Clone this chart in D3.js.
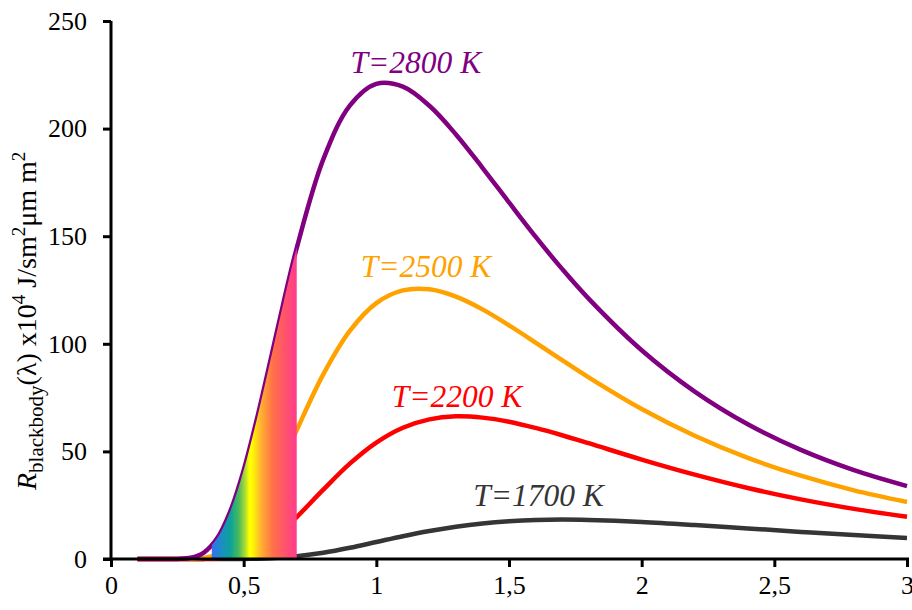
<!DOCTYPE html>
<html>
<head>
<meta charset="utf-8">
<script src="https://cdn.jsdelivr.net/npm/d3@7"></script>
<style>
  body { margin: 0; background: #fff; }
  text { font-family: "Liberation Serif", "Times New Roman", serif; }
</style>
</head>
<body>
<svg id="chart" width="912" height="610"></svg>
<script>
// wavelength in µm
let wavelengths = [0.1, 0.2, 0.25, 0.3, 0.35, 0.4, 0.45, 0.5, 0.55, 0.6, 0.65, 0.7,
  0.8, 0.9, 1.0, 1.1, 1.2, 1.3, 1.4, 1.5, 1.6, 1.7, 1.8, 2.0, 2.2, 2.4, 2.6, 2.8, 3.0];

let r2800 = [0, 0, 0.05, 0.56, 3.0, 9.6, 22.3, 41.2, 65.1, 91.8, 119.0, 144.5,
  185.7, 210.7, 220.8, 219.5, 210.6, 197.3, 181.8, 165.7, 149.8, 134.8, 121.0, 97.0, 77.8, 62.6, 50.7, 41.3, 33.9];
let r2500 = [0, 0, 0, 0.07, 0.52, 2.06, 5.66, 12.0, 21.2, 32.9, 46.1, 59.9,
  85.8, 106.0, 118.9, 124.8, 125.3, 121.9, 116.0, 108.6, 100.6, 92.4, 84.4, 69.7, 57.3, 47.0, 38.7, 31.9, 26.5];
let r2200 = [0, 0, 0, 0, 0.05, 0.29, 0.99, 2.5, 5.1, 8.9, 13.8, 19.5,
  32.2, 44.3, 54.1, 61.0, 64.9, 66.3, 65.7, 63.8, 60.9, 57.5, 53.8, 46.2, 39.2, 33.0, 27.7, 23.3, 19.6];
let r1700 = [0, 0, 0, 0, 0, 0, 0.01, 0.05, 0.15, 0.36, 0.7, 1.25,
  2.9, 5.2, 7.9, 10.6, 13.0, 15.0, 16.5, 17.5, 18.1, 18.3, 18.1, 17.2, 15.8, 14.2, 12.6, 11.1, 9.75];

let series = [
  { name: "T=1700 K", values: r1700, color: "#353535", lx: 1.365, ly: 24.6 },
  { name: "T=2200 K", values: r2200, color: "#ff0000", lx: 1.058, ly: 70.8 },
  { name: "T=2500 K", values: r2500, color: "#ffa200", lx: 0.941, ly: 131.2 },
  { name: "T=2800 K", values: r2800, color: "#800080", lx: 0.903, ly: 225.7 }
];

let xTicks = [0, 0.5, 1, 1.5, 2, 2.5, 3];
let yTicks = [0, 50, 100, 150, 200, 250];
let visibleBand = [0.38, 0.70];
let spectrumColors = ["#3670f0", "#1a8fc0", "#0ba29a", "#4cbb5a", "#b8e030", "#ffff00", "#ffff00",
  "#ffb030", "#ff7048", "#ff5070", "#ff3c8c"];
let spectrumStops = [0, 0.12, 0.22, 0.32, 0.40, 0.44, 0.47, 0.58, 0.72, 0.88, 1];

let svg = d3.select("#chart");
let x = d3.scaleLinear().domain([0, 3]).range([111, 907]);
let y = d3.scaleLinear().domain([0, 250]).range([559, 21]);

let line = d3.line()
  .x((d, i) => x(wavelengths[i]))
  .y(d => y(d))
  .curve(d3.curveCatmullRom.alpha(0.5));

svg.append("g")
  .selectAll("path")
  .data(series)
  .enter()
  .append("path")
  .attr("d", s => line(s.values))
  .attr("fill", "none")
  .attr("stroke", s => s.color)
  .attr("stroke-width", 4.5);

// visible spectrum under the hottest curve
let defs = svg.append("defs");
let grad = defs.append("linearGradient")
  .attr("id", "spectrum")
  .attr("gradientUnits", "userSpaceOnUse")
  .attr("x1", x(visibleBand[0])).attr("x2", x(visibleBand[1]))
  .attr("y1", 0).attr("y2", 0);
grad.selectAll("stop")
  .data(spectrumColors)
  .enter()
  .append("stop")
  .attr("offset", (c, i) => spectrumStops[i])
  .attr("stop-color", c => c);

defs.append("clipPath")
  .attr("id", "band")
  .append("rect")
  .attr("x", x(visibleBand[0]))
  .attr("width", x(visibleBand[1]) - x(visibleBand[0]))
  .attr("y", 0)
  .attr("height", 610);

let area = d3.area()
  .x((d, i) => x(wavelengths[i]))
  .y0(y(0))
  .y1(d => y(d))
  .curve(d3.curveCatmullRom.alpha(0.5));

svg.append("path")
  .attr("d", area(r2800))
  .attr("fill", "url(#spectrum)")
  .attr("clip-path", "url(#band)");

// axes
let xAxis = d3.axisBottom(x)
  .tickValues(xTicks)
  .tickFormat(d => String(d).replace(".", ","))
  .tickSize(8)
  .tickSizeOuter(0)
  .tickPadding(9);
let yAxis = d3.axisLeft(y)
  .tickValues(yTicks)
  .tickSize(8)
  .tickSizeOuter(0)
  .tickPadding(16);

let gx = svg.append("g").attr("transform", `translate(0,${y(0)})`).call(xAxis);
let gy = svg.append("g").attr("transform", `translate(${x(0)},0)`).call(yAxis);
[gx, gy].forEach(g => {
  g.select(".domain").attr("stroke", "#000").attr("stroke-width", 3);
  g.selectAll(".tick line").attr("stroke", "#000").attr("stroke-width", 3);
  g.selectAll(".tick text")
    .attr("fill", "#000")
    .style("font-family", "'Liberation Serif', 'Times New Roman', serif")
    .style("font-size", "26px");
});
gx.select(".domain").attr("d", `M${x(0) - 8},0H${x(3) + 2}`);
gy.select(".domain").attr("d", `M0,${y(250)}V${y(0) + 1}`);

// curve labels
svg.append("g")
  .selectAll("text")
  .data(series)
  .enter()
  .append("text")
  .text(s => s.name)
  .attr("x", s => x(s.lx))
  .attr("y", s => y(s.ly))
  .attr("fill", s => s.color)
  .style("font-style", "italic")
  .style("font-size", "31.5px");

// y axis title
let title = svg.append("text")
  .attr("transform", "translate(36,490) rotate(-90)")
  .style("font-size", "28px")
  .attr("fill", "#000");
title.append("tspan").text("R").style("font-style", "italic");
title.append("tspan").text("blackbody").attr("dy", 7).style("font-size", "21px");
title.append("tspan").text("(λ) x10").attr("dy", -7);
title.append("tspan").text("4").attr("dy", -11).style("font-size", "19px");
title.append("tspan").text(" J/sm").attr("dy", 11);
title.append("tspan").text("2").attr("dy", -11).style("font-size", "19px");
title.append("tspan").text("μm m").attr("dy", 11);
title.append("tspan").text("2").attr("dy", -11).style("font-size", "19px");
</script>
</body>
</html>
